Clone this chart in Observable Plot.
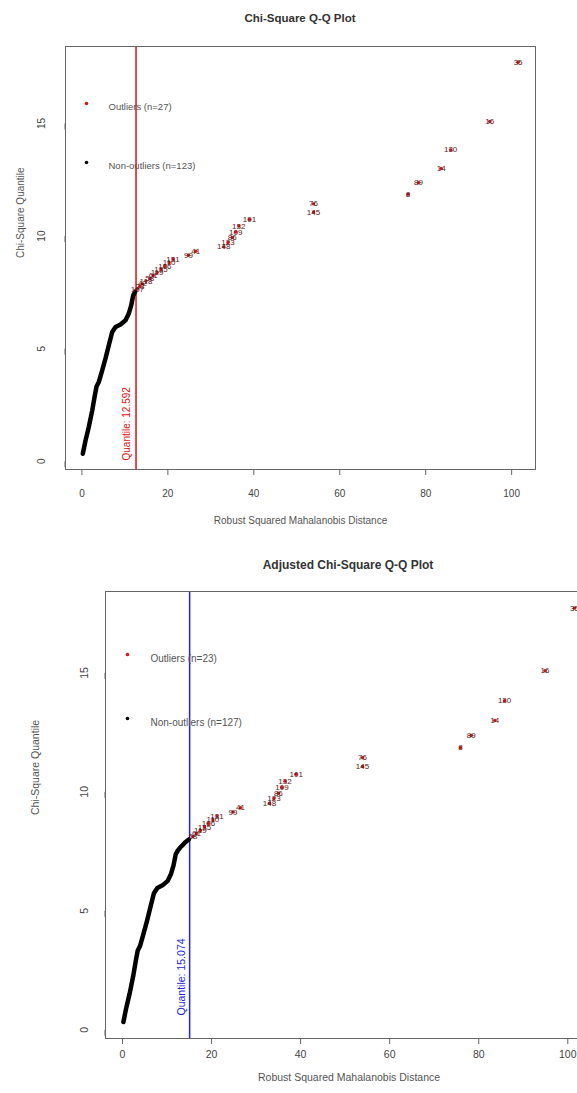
<!DOCTYPE html>
<html><head><meta charset="utf-8">
<script src="https://cdn.jsdelivr.net/npm/d3@7"></script>
<script src="https://cdn.jsdelivr.net/npm/@observablehq/plot@0.6"></script>
<style>
html,body{margin:0;padding:0;background:#fff;overflow:hidden;}
#wrap{position:relative;width:577px;height:1093px;overflow:hidden;font-family:"Liberation Sans",Arial,sans-serif;}
.ttl{position:absolute;width:400px;text-align:center;font-weight:bold;color:#333;line-height:16px;z-index:2;}
.panel{position:absolute;left:0;}
</style></head><body><div id="wrap"></div>
<script>
// Non-outlier path (sorted robust distance vs chi-square quantile)
const baseX = [0.2, 0.84, 1.6, 2.4, 3.0, 3.4, 3.93, 4.72, 5.49, 6.26, 7.05, 7.82, 8.98, 10.15, 10.91, 11.47, 11.94, 12.4];
const baseY = [0.33, 0.92, 1.52, 2.26, 2.92, 3.32, 3.52, 4.04, 4.57, 5.15, 5.74, 5.96, 6.07, 6.26, 6.56, 6.92, 7.37, 7.53];
// Largest 27 observations
const hiX = [12.9, 13.5, 14.1, 14.9, 15.8, 16.6, 17.5, 18.4, 19.3, 20.3, 21.2, 24.8, 26.5, 33.0, 34.0, 35.0, 35.8, 36.5, 39.0, 53.9, 53.9, 75.9, 78.3, 83.6, 85.8, 94.9, 101.5];
const hiY = [7.65, 7.76, 7.88, 8.0, 8.12, 8.25, 8.38, 8.52, 8.67, 8.82, 8.98, 9.15, 9.33, 9.52, 9.72, 9.94, 10.18, 10.45, 10.74, 11.07, 11.43, 11.86, 12.37, 13.0, 13.83, 15.09, 17.72];
const hiLabel = ["107","23","42","118","58","61","119","135","106","110","131","99","41","148","123","86","109","132","101","145","76","8","89","14","130","16","35"];
const xTicks = [0, 20, 40, 60, 80, 100];
const yTicks = [0, 5, 10, 15];
const titles = ["Chi-Square Q-Q Plot", "Adjusted Chi-Square Q-Q Plot"];
const cutoffs = [12.592, 15.074];
const cutoffText = ["Quantile: 12.592", "Quantile: 15.074"];
const legendOut = ["Outliers (n=27)", "Outliers (n=23)"];
const legendIn = ["Non-outliers (n=123)", "Non-outliers (n=127)"];
const xTitle = "Robust Squared Mahalanobis Distance";
const yTitle = "Chi-Square Quantile";

const base = baseX.map((x, i) => ({x, y: baseY[i]}));
const hi = hiX.map((x, i) => ({x, y: hiY[i], label: hiLabel[i]}));
const FONT = '"Liberation Sans", Arial, sans-serif';

function panel(k, o) {
  const cut = cutoffs[k];
  const outl = hi.filter(d => d.x > cut);
  const inl = base.concat(hi.filter(d => d.x <= cut));
  const col = o.color;
  return Plot.plot({
    width: 577, height: o.height,
    marginTop: o.mT, marginBottom: o.mB, marginLeft: o.mL, marginRight: o.mR,
    x: {domain: [-3.82, 105.55]},
    y: {domain: [-0.366, 18.42]},
    style: {background: "transparent", color: "#444", fontFamily: FONT, overflow: "visible"},
    marks: [
      Plot.axisX(xTicks, {label: null, tickSize: 6, tickPadding: o.tpx, fontSize: o.fs, stroke: "#666"}),
      Plot.axisY(yTicks, {label: null, tickSize: 6, tickPadding: o.tpy, rotate: -90, textAnchor: "middle", fontSize: o.fs, stroke: "#666"}),
      Plot.ruleX([cut], {x: d => d, stroke: col, strokeWidth: 1.5}),
      Plot.text([cut], {x: d => d, text: () => cutoffText[k], frameAnchor: "bottom", rotate: -90, textAnchor: "start", dx: o.qdx, dy: o.qdy, fill: col, fontSize: o.fs}),
      Plot.line(inl, {x: "x", y: "y", stroke: "black", strokeWidth: 4.5, strokeLinecap: "round", strokeLinejoin: "round"}),
      Plot.dot(outl, {x: "x", y: "y", r: 1.7, fill: "#d21a1a"}),
      Plot.text(outl, {x: "x", y: "y", text: "label", fontSize: 8, fill: "#5a1818"}),
      Plot.dot([0], {frameAnchor: "top-left", dx: o.ldx, dy: o.ldy1, r: 1.8, fill: "#d21a1a"}),
      Plot.text([legendOut[k]], {frameAnchor: "top-left", dx: o.ltx, dy: o.ldy1, text: d => d, textAnchor: "start", fontSize: o.lfs, fill: "#555"}),
      Plot.dot([0], {frameAnchor: "top-left", dx: o.ldx, dy: o.ldy2, r: 1.8, fill: "black"}),
      Plot.text([legendIn[k]], {frameAnchor: "top-left", dx: o.ltx, dy: o.ldy2, text: d => d, textAnchor: "start", fontSize: o.lfs, fill: "#555"}),
      Plot.text([xTitle], {frameAnchor: "bottom", dy: o.xtdy, text: d => d, fontSize: o.fs, fill: "#555"}),
      Plot.text([yTitle], {frameAnchor: "left", dx: o.ytdx, rotate: -90, text: d => d, fontSize: o.fs, fill: "#555"}),
      Plot.frame({stroke: "#666"})
    ]
  });
}

const wrap = document.getElementById("wrap");
const p1 = panel(0, {height: 540, mT: 46, mB: 71, mL: 65, mR: 42, color: "#e01010", fs: 10, lfs: 9.5,
  tpx: 14, tpy: 18, qdx: -6, qdy: -9, ldx: 21, ltx: 43, ldy1: 57, ldy2: 116, xtdy: 54, ytdx: -45});
p1.classList.add("panel"); p1.style.top = "0px";
wrap.appendChild(p1);
const p2 = panel(1, {height: 548, mT: 46, mB: 55, mL: 105, mR: -15, color: "#2424e0", fs: 10.5, lfs: 10,
  tpx: 6, tpy: 15, qdx: -4.5, qdy: -23, ldx: 22, ltx: 45, ldy1: 63, ldy2: 127, xtdy: 42, ytdx: -70});
p2.classList.add("panel"); p2.style.top = "545px";
wrap.appendChild(p2);

const t1 = document.createElement("div");
t1.className = "ttl"; t1.style.left = "100px"; t1.style.top = "10px"; t1.style.fontSize = "11.5px";
t1.textContent = titles[0]; wrap.appendChild(t1);
const t2 = document.createElement("div");
t2.className = "ttl"; t2.style.left = "148px"; t2.style.top = "557px"; t2.style.fontSize = "12px";
t2.textContent = titles[1]; wrap.appendChild(t2);
</script></body></html>
